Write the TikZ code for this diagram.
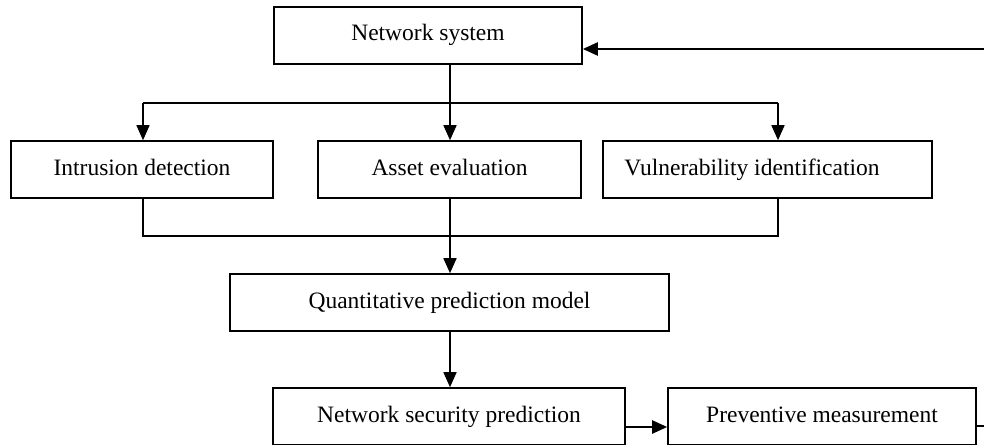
\documentclass[tikz,border=0pt]{standalone}
\usepackage{fontspec}
\setmainfont{Liberation Serif}
\usetikzlibrary{arrows.meta}
\begin{document}
\begin{tikzpicture}[x=1pt,y=-1pt,
  box/.style={draw, line width=1.6pt, inner sep=0pt, minimum height=57pt,
    text height=16.5pt, text depth=5.5pt,
    font=\fontsize{23.5}{28}\selectfont},
  conn/.style={line width=1.6pt},
  arr/.style={conn, -{Triangle[length=15pt,width=13pt]}},
  thickarr/.style={line width=2.4pt, -{Triangle[length=15pt,width=13pt]}}]
\useasboundingbox (0,0) rectangle (984,444);
\clip (0,0) rectangle (984,444);
% boxes
\node[box, minimum width=308pt] (ns) at (428,35.5) {Network system};
\node[box, minimum width=262pt] (id) at (142,169.5) {Intrusion detection};
\node[box, minimum width=263pt] (ae) at (449.5,169.5) {Asset evaluation};
\node[box, minimum width=329pt] (vi) at (767.5,169.5) {\hspace*{-31pt}Vulnerability identification};
\node[box, minimum width=439pt] (qp) at (449.5,302.5) {Quantitative prediction model};
\node[box, minimum width=352pt] (nsp) at (449,416.5) {Network security prediction};
\node[box, minimum width=308pt] (pm) at (822,416.5) {Preventive measurement};
% coordinates
\coordinate (split) at (450,103);
\coordinate (merge) at (450,236);
\coordinate (loop) at (1000,49);
% top distribution
\draw[conn] (ns.south -| split) -- (split);
\draw[conn] (143,103) -- (778,103);
\draw[arr] (143,103) -- (id.north -| 143,0);
\draw[arr] (split) -- (ae.north -| split);
\draw[arr] (778,103) -- (vi.north -| 778,0);
% merge
\draw[conn] (id.south -| 143,0) -- (143,236) -- (778,236) -- (vi.south -| 778,0);
\draw[arr] (ae.south -| merge) -- (qp.north -| merge);
\draw[arr] (qp.south -| 450,0) -- (nsp.north -| 450,0);
% bottom
\draw[thickarr] (nsp.east |- 0,427) -- (pm.west |- 0,427);
% feedback loop
\draw[thickarr] (pm.east |- 0,426) -- (1000,426) -- (loop) -- (ns.east |- loop);
\end{tikzpicture}
\end{document}
